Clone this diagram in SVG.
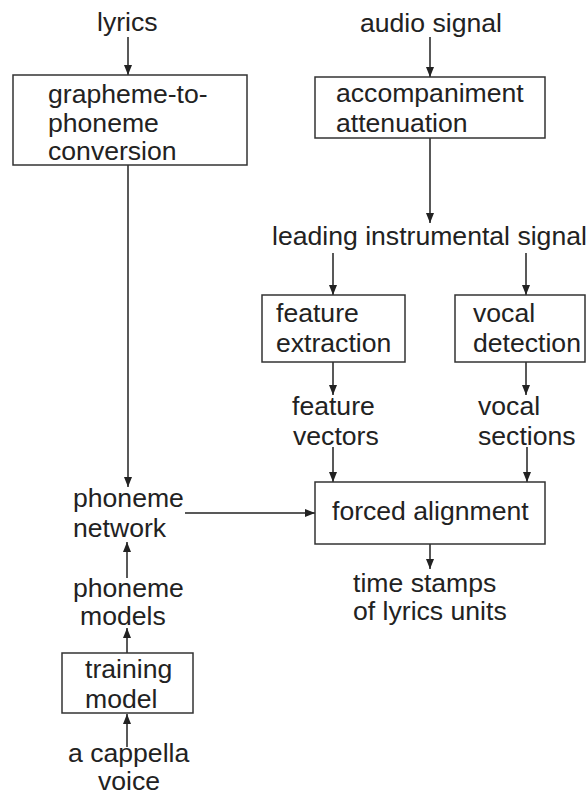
<svg xmlns="http://www.w3.org/2000/svg" width="588" height="795" viewBox="0 0 588 795">
<style>
text{font-family:"Liberation Sans",Arial,sans-serif;font-size:26.6px;fill:#222}
.box{fill:#fff;stroke:#333;stroke-width:1.5}
.ln{stroke:#222;stroke-width:1.5;fill:none;marker-end:url(#ah)}
</style>
<defs>
<marker id="ah" viewBox="0 0 10 10" refX="10" refY="5" markerWidth="10" markerHeight="10" markerUnits="userSpaceOnUse" orient="auto">
<path d="M0,1 L10,5 L0,9 Z" fill="#222"/>
</marker>
</defs>
<rect width="588" height="795" fill="#fff"/>
<g id="connectors">
<line class="ln" x1="128" y1="37" x2="128" y2="75"/>
<line class="ln" x1="430" y1="37" x2="430" y2="77"/>
<line class="ln" x1="128" y1="165" x2="128" y2="487"/>
<line class="ln" x1="430" y1="138" x2="430" y2="223"/>
<line class="ln" x1="333" y1="253" x2="333" y2="295"/>
<line class="ln" x1="526" y1="253" x2="526" y2="295"/>
<line class="ln" x1="333" y1="362" x2="333" y2="395"/>
<line class="ln" x1="526" y1="362" x2="526" y2="395"/>
<line class="ln" x1="333" y1="447" x2="333" y2="482"/>
<line class="ln" x1="527" y1="447" x2="527" y2="482"/>
<line class="ln" x1="185" y1="513" x2="315" y2="513"/>
<line class="ln" x1="430" y1="544" x2="430" y2="569"/>
<line class="ln" x1="127" y1="578" x2="127" y2="542"/>
<line class="ln" x1="127" y1="653" x2="127" y2="628"/>
<line class="ln" x1="127" y1="747" x2="127" y2="714"/>
</g>
<g id="lyrics"><text x="97" y="31">lyrics</text></g>
<g id="audio-signal"><text x="360" y="32">audio signal</text></g>
<g id="g2p"><rect class="box" x="13" y="75" width="234" height="90"/>
<text x="48" y="103">grapheme-to-</text><text x="48" y="132">phoneme</text><text x="48" y="160">conversion</text></g>
<g id="accomp"><rect class="box" x="315" y="77" width="230" height="61"/>
<text x="336" y="102">accompaniment</text><text x="336" y="132">attenuation</text></g>
<g id="leading"><text x="272" y="245">leading instrumental signal</text></g>
<g id="feat-ext"><rect class="box" x="262" y="295" width="143" height="67"/>
<text x="276" y="322">feature</text><text x="276" y="352">extraction</text></g>
<g id="vocal-det"><rect class="box" x="455" y="295" width="130" height="67"/>
<text x="473" y="322">vocal</text><text x="473" y="352">detection</text></g>
<g id="feat-vec"><text x="292" y="415">feature</text><text x="293" y="445">vectors</text></g>
<g id="vocal-sec"><text x="478" y="415">vocal</text><text x="478" y="445">sections</text></g>
<g id="phon-net"><text x="73" y="507">phoneme</text><text x="73" y="537">network</text></g>
<g id="forced"><rect class="box" x="315" y="482" width="230" height="62"/>
<text x="332" y="520">forced alignment</text></g>
<g id="timestamps"><text x="353" y="592">time stamps</text><text x="353" y="620">of lyrics units</text></g>
<g id="phon-models"><text x="73" y="597">phoneme</text><text x="80" y="625">models</text></g>
<g id="training"><rect class="box" x="62" y="653" width="131" height="60"/>
<text x="85" y="678">training</text><text x="85" y="708">model</text></g>
<g id="acappella"><text x="68" y="762">a cappella</text><text x="98" y="790">voice</text></g>
</svg>
